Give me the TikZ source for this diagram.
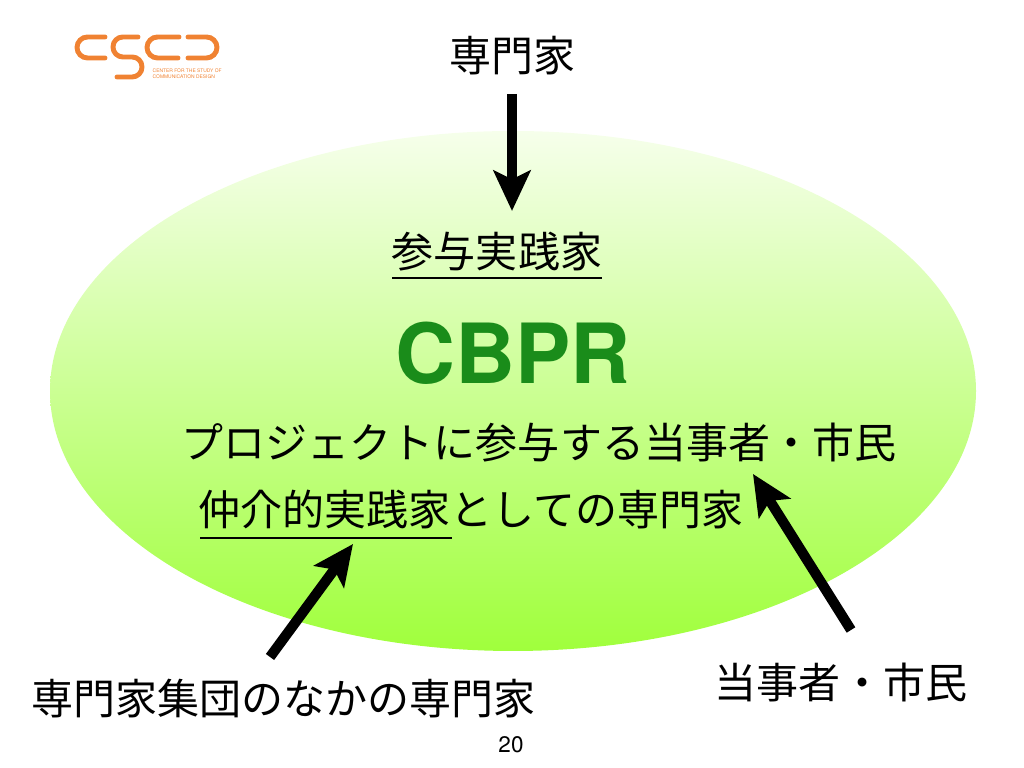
\documentclass[tikz,border=0pt]{standalone}
\usepackage{fontspec}
\setmainfont{TeX Gyre Heros}
\newfontfamily\jpfont{Noto Sans CJK JP}
\usetikzlibrary{arrows.meta}
\definecolor{logoorange}{RGB}{240,130,50}
\definecolor{cbprgreen}{RGB}{26,140,26}
\definecolor{blobtop}{RGB}{246,255,235}
\definecolor{blobbottom}{RGB}{160,255,60}
\tikzset{
	jptext/.style={inner sep=0pt,font=\jpfont\fontsize{11.95}{11.95}\selectfont},
	bigarrow/.style={line width=2.9pt,-{Stealth[length=11.5pt,width=10.5pt,inset=2.5pt]}},
	rule/.style={line width=0.75pt},
	logoline/.style={draw=logoorange,line width=1.4pt,line cap=round}
}
\begin{document}
\begin{tikzpicture}[x=0.01cm,y=-0.01cm]
	\useasboundingbox (0,0) rectangle (1024,768);

	\shade[top color=blobtop,bottom color=blobbottom] (513,391) ellipse [x radius=463,y radius=260];

	\draw[logoline,rounded corners=3pt] (105,37) -- (77,37) -- (77,58) -- (105,58);
	\draw[logoline,rounded corners=2.8pt] (138,37) -- (113,37) -- (113,57) -- (142,57) -- (142,77) -- (117,77);
	\draw[logoline,rounded corners=3pt] (179,37) -- (147,37) -- (147,58) -- (178,58);
	\draw[logoline,rounded corners=3pt] (188,37) -- (217,37) -- (217,58) -- (188,58);
	\node[anchor=west,inner sep=0pt,align=left,text=logoorange,font=\fontsize{1.4}{1.8}\selectfont] (logotext) at (152,74) {CENTER FOR THE STUDY OF\\COMMUNICATION DESIGN};

	\node[jptext] (expert) at (512.5,56) {専門家};
	\node[jptext] (practitioner) at (497,252) {参与実践家};
	\node[inner sep=0pt,text=cbprgreen,font=\bfseries\fontsize{23.6}{23.6}\selectfont] (cbpr) at (513,353) {CBPR};
	\node[jptext] (participants) at (539,443) {プロジェクトに参与する当事者・市民};
	\node[jptext] (mediator) at (471,510) {仲介的実践家としての専門家};
	\node[jptext] (group) at (283.5,699) {専門家集団のなかの専門家};
	\node[jptext] (citizens) at (841,682) {当事者・市民};
	\node[inner sep=0pt,font=\fontsize{6.4}{6.4}\selectfont] (pagenum) at (511,745) {20};

	\coordinate (a1) at (512,94);
	\coordinate (a2) at (512,211);
	\coordinate (b1) at (270,657);
	\coordinate (b2) at (353,544);
	\coordinate (c1) at (851,630);
	\coordinate (c2) at (753,474);
	\coordinate (u1) at (392,278);
	\coordinate (u2) at (602,278);
	\coordinate (v1) at (200,538);
	\coordinate (v2) at (452,538);

	\draw[bigarrow] (a1) -- (a2);
	\draw[bigarrow] (b1) -- (b2);
	\draw[bigarrow] (c1) -- (c2);
	\draw[rule] (u1) -- (u2);
	\draw[rule] (v1) -- (v2);
\end{tikzpicture}
\end{document}
